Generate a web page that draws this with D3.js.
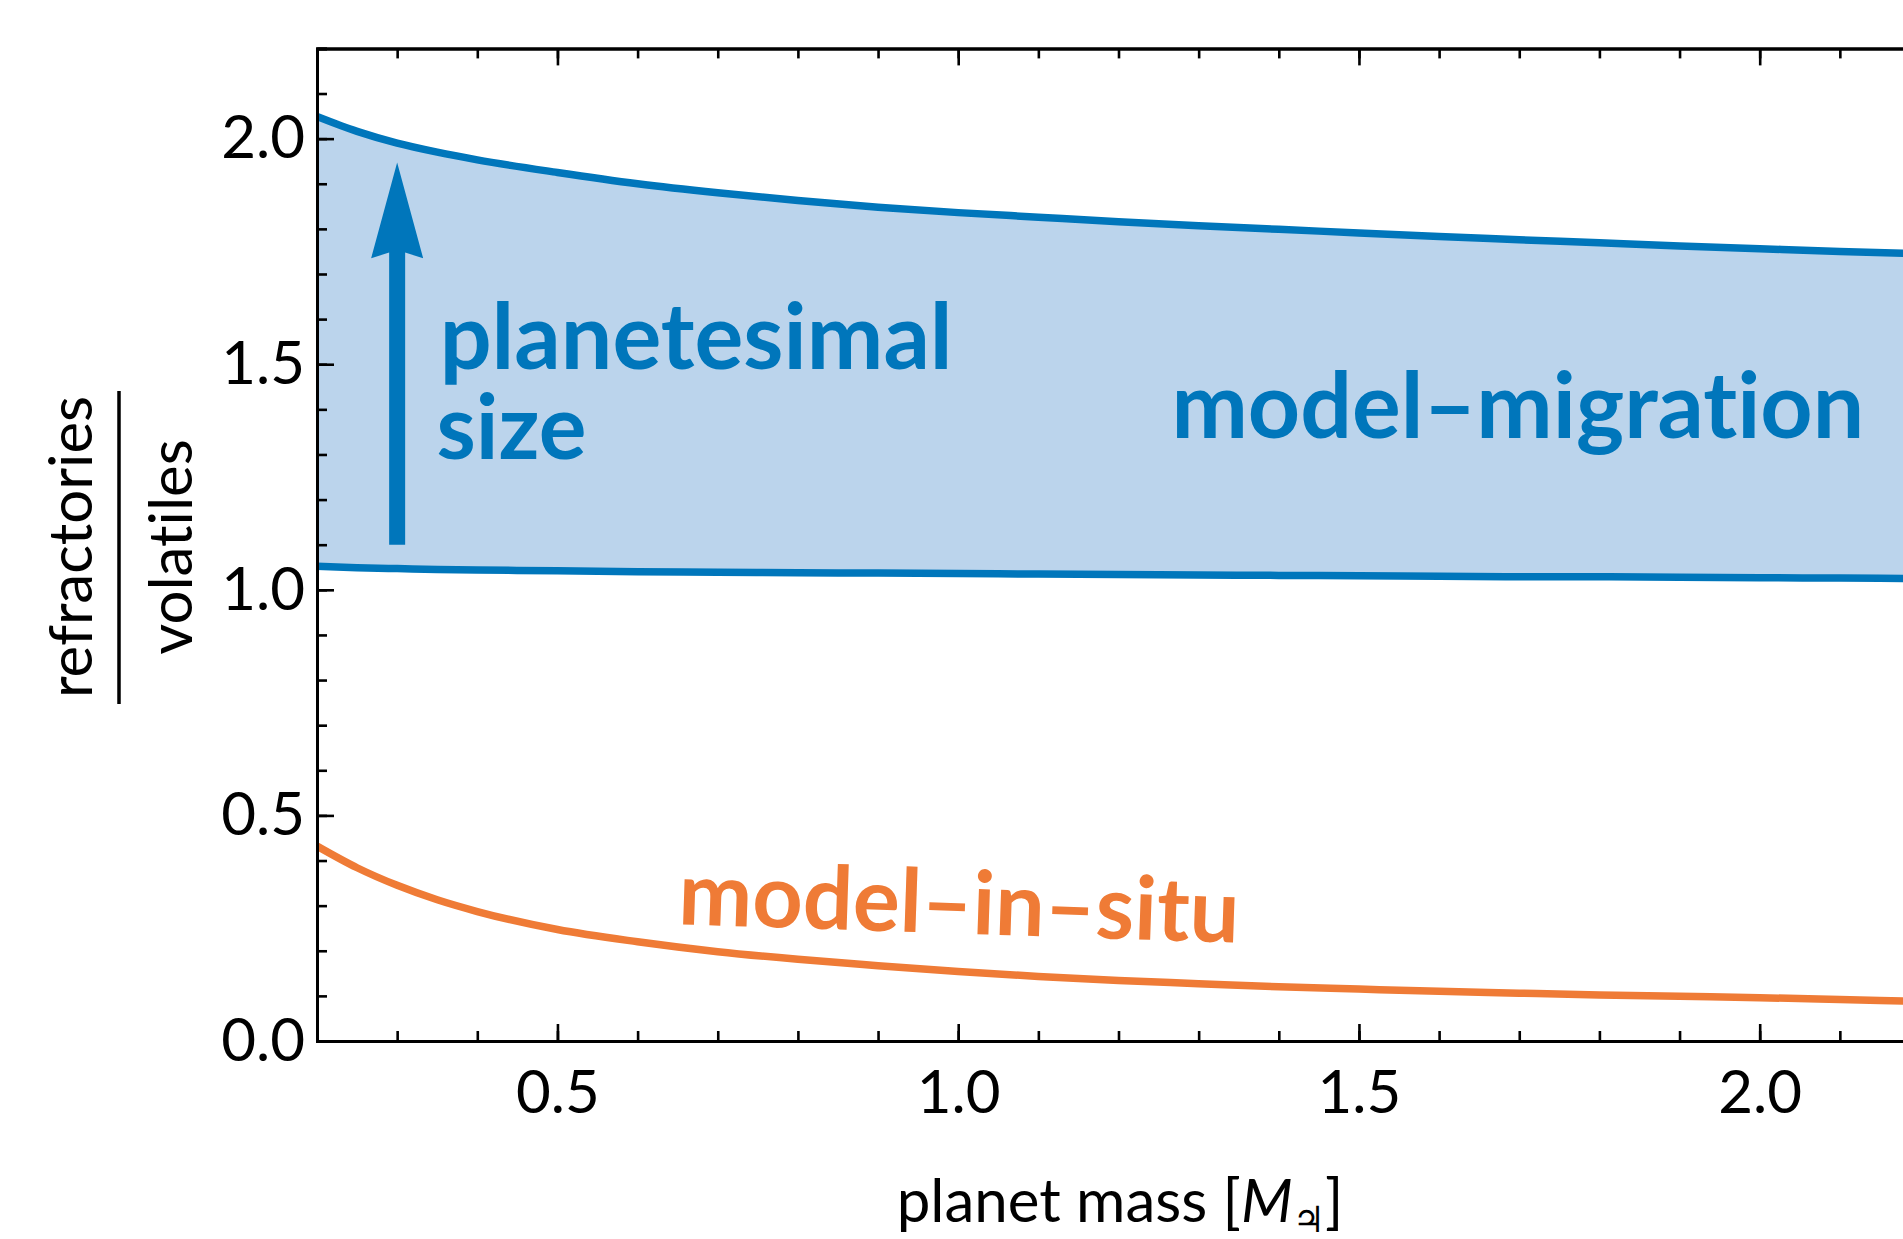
<!DOCTYPE html>
<html><head><meta charset="utf-8">
<script src="https://cdn.jsdelivr.net/npm/d3@7"></script>
<style>html,body{margin:0;padding:0;background:#fff;} svg{display:block;} text{font-variant-ligatures:none;font-feature-settings:"liga" 0,"clig" 0,"dlig" 0;}</style>
</head><body>
<svg id="chart" width="1903" height="1239"></svg>
<script>
// ---- data ----
const planetMass     = [0.2, 0.25, 0.3, 0.35, 0.4, 0.5, 0.6, 0.7, 0.8, 0.9, 1.0, 1.1, 1.2, 1.3, 1.4, 1.5, 1.6, 1.7, 1.8, 1.9, 2.0, 2.1, 2.2];
const migrationUpper = [2.049, 2.016, 1.990, 1.970, 1.953, 1.925, 1.900, 1.880, 1.863, 1.848, 1.836, 1.826, 1.816, 1.807, 1.799, 1.791, 1.783, 1.776, 1.769, 1.762, 1.756, 1.750, 1.745];
const migrationLower = [1.052, 1.049, 1.047, 1.045, 1.044, 1.042, 1.040, 1.039, 1.038, 1.037, 1.036, 1.035, 1.034, 1.033, 1.032, 1.031, 1.030, 1.029, 1.029, 1.028, 1.027, 1.026, 1.025];
const inSitu         = [0.432, 0.384, 0.345, 0.313, 0.287, 0.247, 0.220, 0.198, 0.181, 0.167, 0.154, 0.143, 0.134, 0.127, 0.120, 0.115, 0.110, 0.106, 0.102, 0.099, 0.096, 0.092, 0.088];
const xMajorTicks = [0.5, 1.0, 1.5, 2.0];
const yMajorTicks = [0.0, 0.5, 1.0, 1.5, 2.0];
const xMinorTicks = d3.range(2, 23).map(d => d / 10);
const yMinorTicks = d3.range(0, 23).map(d => d / 10);
const xDomain = [0.2, 2.2];
const yDomain = [0, 2.2];
const arrowX = 0.3, arrowFrom = 1.10, arrowTo = 1.947;

// ---- styles ----
const BLUE = "#0076bb", FILL = "#bbd4ec", ORANGE = "#ef7b36";
const FONT = "Lato, 'Open Sans', sans-serif";

const svg = d3.select("#chart");
const x = d3.scaleLinear().domain(xDomain).range([317, 1920]);
const y = d3.scaleLinear().domain(yDomain).range([1041, 48.4]);

svg.append("defs").append("clipPath").attr("id", "plotclip")
  .append("rect").attr("x", x(xDomain[0])).attr("y", y(yDomain[1]))
  .attr("width", x(xDomain[1]) - x(xDomain[0])).attr("height", y(yDomain[0]) - y(yDomain[1]));

const rows = planetMass.map((m, i) => ({m, up: migrationUpper[i], lo: migrationLower[i], ins: inSitu[i]}));
const plot = svg.append("g").attr("clip-path", "url(#plotclip)");

plot.append("path").datum(rows)
  .attr("fill", FILL)
  .attr("d", d3.area().x(d => x(d.m)).y0(d => y(d.lo)).y1(d => y(d.up)).curve(d3.curveMonotoneX));

const line = key => d3.line().x(d => x(d.m)).y(d => y(d[key])).curve(d3.curveMonotoneX);
plot.append("path").datum(rows).attr("fill", "none").attr("stroke", BLUE).attr("stroke-width", 7.5).attr("d", line("up"));
plot.append("path").datum(rows).attr("fill", "none").attr("stroke", BLUE).attr("stroke-width", 7.5).attr("d", line("lo"));
plot.append("path").datum(rows).attr("fill", "none").attr("stroke", ORANGE).attr("stroke-width", 7.5).attr("d", line("ins"));

// ---- arrow ----
{
  const cx = x(arrowX), tip = y(arrowTo), bottom = y(arrowFrom);
  const headLen = 95.6, notch = 8, half = 26, shaft = 8;
  const baseY = tip + headLen;
  const joinY = baseY - notch * (half - shaft) / half;
  const p = d3.path();
  p.moveTo(cx - shaft, bottom);
  p.lineTo(cx - shaft, joinY);
  p.lineTo(cx - half, baseY);
  p.lineTo(cx, tip);
  p.lineTo(cx + half, baseY);
  p.lineTo(cx + shaft, joinY);
  p.lineTo(cx + shaft, bottom);
  p.closePath();
  svg.append("path").attr("d", p.toString()).attr("fill", BLUE);
}

// ---- axes ----
function styleAxis(g) {
  g.selectAll("path.domain").attr("stroke", "#000").attr("stroke-width", 3);
  g.selectAll(".tick line").attr("stroke", "#000").attr("stroke-width", 2.6);
  g.selectAll("text").attr("font-family", FONT).attr("font-weight", 400).attr("font-size", 60).attr("fill", "#000");
}
const fmt = d3.format(".1f");
const X0 = y(0), XT = y(2.2), YL = x(0.2), YR = x(2.2);

// bottom
svg.append("g").attr("transform", `translate(0,${X0})`)
  .call(d3.axisBottom(x).tickValues(xMinorTicks).tickSize(-10).tickFormat("")).call(styleAxis);
svg.append("g").attr("transform", `translate(0,${X0})`)
  .call(d3.axisBottom(x).tickValues(xMajorTicks).tickSizeInner(-17).tickSizeOuter(0).tickPadding(29).tickFormat(fmt)).call(styleAxis);
// top
svg.append("g").attr("transform", `translate(0,${XT})`)
  .call(d3.axisTop(x).tickValues(xMinorTicks).tickSize(-10).tickFormat("")).call(styleAxis);
svg.append("g").attr("transform", `translate(0,${XT})`)
  .call(d3.axisTop(x).tickValues(xMajorTicks).tickSizeInner(-17).tickSizeOuter(0).tickFormat("")).call(styleAxis);
// left
svg.append("g").attr("transform", `translate(${YL},0)`)
  .call(d3.axisLeft(y).tickValues(yMinorTicks).tickSize(-10).tickFormat("")).call(styleAxis);
svg.append("g").attr("transform", `translate(${YL},0)`)
  .call(d3.axisLeft(y).tickValues(yMajorTicks).tickSizeInner(-17).tickSizeOuter(0).tickPadding(12).tickFormat(fmt)).call(styleAxis);
// right
svg.append("g").attr("transform", `translate(${YR},0)`)
  .call(d3.axisRight(y).tickValues(yMinorTicks).tickSize(-10).tickFormat("")).call(styleAxis);
svg.append("g").attr("transform", `translate(${YR},0)`)
  .call(d3.axisRight(y).tickValues(yMajorTicks).tickSizeInner(-17).tickSizeOuter(0).tickFormat("")).call(styleAxis);

// ---- axis titles ----
const xt = svg.append("text").attr("x", 1120).attr("y", 1221.7).attr("text-anchor", "middle")
  .attr("font-family", FONT).attr("font-weight", 400).attr("font-size", 60).attr("fill", "#000");
xt.append("tspan").text("planet mass [");
xt.append("tspan").attr("font-style", "italic").text("M");
xt.append("tspan").attr("font-size", 36).attr("dy", 10).attr("font-family", "'DejaVu Sans', sans-serif").text("\u2643");
xt.append("tspan").attr("dy", -10).text("]");

const yl = svg.append("g").attr("font-family", FONT).attr("font-weight", 400).attr("font-size", 60).attr("fill", "#000");
yl.append("text").attr("transform", "translate(91.5,547) rotate(-90)").attr("text-anchor", "middle").text("refractories");
yl.append("line").attr("x1", 119).attr("x2", 119).attr("y1", 391).attr("y2", 704).attr("stroke", "#000").attr("stroke-width", 3.5);
yl.append("text").attr("transform", "translate(192,547) rotate(-90)").attr("text-anchor", "middle").text("volatiles");

// ---- annotations ----
function fitWidth(sel, target) {
  const w = sel.node().getComputedTextLength();
  const fs = parseFloat(sel.attr("font-size"));
  sel.attr("font-size", fs * target / w);
}
function label(txt, mx, vy, color, target, rot) {
  const t = svg.append("text")
    .attr("transform", `translate(${x(mx)},${y(vy)}) rotate(${rot || 0})`)
    .attr("font-family", FONT).attr("font-weight", 700).attr("font-size", 88)
    .attr("fill", color).text(txt);
  fitWidth(t, target);
  return t;
}
label("planetesimal", 0.353, 1.490, BLUE, 513);
label("size", 0.349, 1.2905, BLUE, 150);
label("model\u2013migration", 1.266, 1.3358, BLUE, 693);
label("model\u2013in\u2013situ", 0.650, 0.259, ORANGE, 561, 1.9);
</script>
</body></html>
